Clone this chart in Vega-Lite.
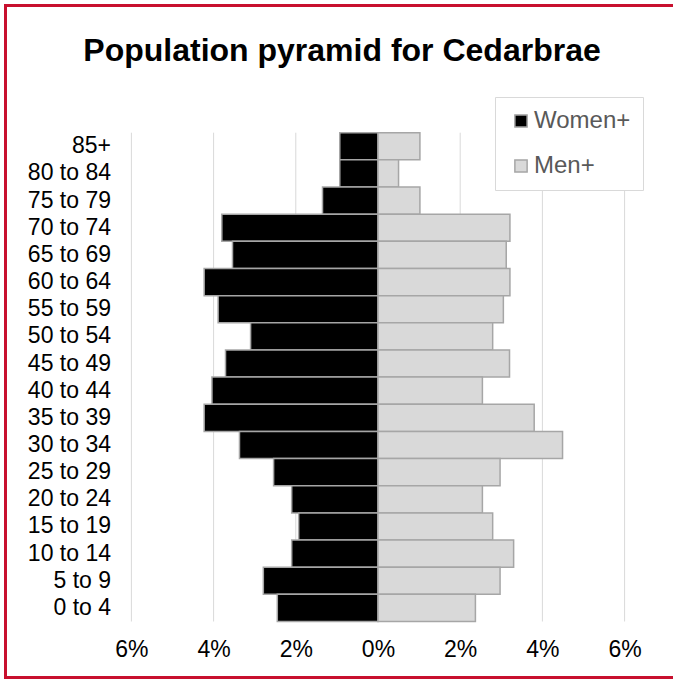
{
  "$schema": "https://vega.github.io/schema/vega-lite/v6.json",
  "width": 669,
  "height": 672,
  "autosize": {"type": "none"},
  "padding": {"left": 5.5, "top": 5.5, "right": -1.5, "bottom": 1.5},
  "background": "white",
  "title": {"text": "Population pyramid for Cedarbrae", "font": "Liberation Sans", "fontSize": 32, "fontWeight": "bold", "color": "#000000", "anchor": "middle", "offset": -62, "dx": 2},
  "config": {"view": {"stroke": "#c8102e", "strokeWidth": 3}, "font": "Liberation Sans"},
  "layer": [
    {
      "data": {"values": [{"g": -6}, {"g": -4}, {"g": -2}, {"g": 0}, {"g": 2}, {"g": 4}, {"g": 6}]},
      "mark": {"type": "rule", "color": "#d9d9d9", "strokeWidth": 1},
      "encoding": {
        "x": {"field": "g", "type": "quantitative", "title": null},
        "y": {"datum": "85+", "type": "nominal", "bandPosition": 0, "title": null},
        "y2": {"datum": "0 to 4", "bandPosition": 1}
      }
    },
    {
      "data": {"values": [
        {"age": "85+", "sex": "Women+", "value": -0.93},
        {"age": "80 to 84", "sex": "Women+", "value": -0.93},
        {"age": "75 to 79", "sex": "Women+", "value": -1.35},
        {"age": "70 to 74", "sex": "Women+", "value": -3.80},
        {"age": "65 to 69", "sex": "Women+", "value": -3.54},
        {"age": "60 to 64", "sex": "Women+", "value": -4.23},
        {"age": "55 to 59", "sex": "Women+", "value": -3.89},
        {"age": "50 to 54", "sex": "Women+", "value": -3.10},
        {"age": "45 to 49", "sex": "Women+", "value": -3.71},
        {"age": "40 to 44", "sex": "Women+", "value": -4.04},
        {"age": "35 to 39", "sex": "Women+", "value": -4.23},
        {"age": "30 to 34", "sex": "Women+", "value": -3.37},
        {"age": "25 to 29", "sex": "Women+", "value": -2.54},
        {"age": "20 to 24", "sex": "Women+", "value": -2.10},
        {"age": "15 to 19", "sex": "Women+", "value": -1.93},
        {"age": "10 to 14", "sex": "Women+", "value": -2.10},
        {"age": "5 to 9", "sex": "Women+", "value": -2.79},
        {"age": "0 to 4", "sex": "Women+", "value": -2.45},
        {"age": "85+", "sex": "Men+", "value": 1.02},
        {"age": "80 to 84", "sex": "Men+", "value": 0.50},
        {"age": "75 to 79", "sex": "Men+", "value": 1.02},
        {"age": "70 to 74", "sex": "Men+", "value": 3.21},
        {"age": "65 to 69", "sex": "Men+", "value": 3.12},
        {"age": "60 to 64", "sex": "Men+", "value": 3.21},
        {"age": "55 to 59", "sex": "Men+", "value": 3.05},
        {"age": "50 to 54", "sex": "Men+", "value": 2.79},
        {"age": "45 to 49", "sex": "Men+", "value": 3.20},
        {"age": "40 to 44", "sex": "Men+", "value": 2.54},
        {"age": "35 to 39", "sex": "Men+", "value": 3.80},
        {"age": "30 to 34", "sex": "Men+", "value": 4.49},
        {"age": "25 to 29", "sex": "Men+", "value": 2.97},
        {"age": "20 to 24", "sex": "Men+", "value": 2.54},
        {"age": "15 to 19", "sex": "Men+", "value": 2.79},
        {"age": "10 to 14", "sex": "Men+", "value": 3.30},
        {"age": "5 to 9", "sex": "Men+", "value": 2.97},
        {"age": "0 to 4", "sex": "Men+", "value": 2.37}
      ]},
      "mark": {"type": "bar", "stroke": "#a6a6a6", "strokeWidth": 1.5},
      "encoding": {
        "y": {
          "field": "age", "type": "nominal", "title": null,
          "scale": {"type": "band", "domain": ["85+", "80 to 84", "75 to 79", "70 to 74", "65 to 69", "60 to 64", "55 to 59", "50 to 54", "45 to 49", "40 to 44", "35 to 39", "30 to 34", "25 to 29", "20 to 24", "15 to 19", "10 to 14", "5 to 9", "0 to 4"], "paddingInner": 0, "paddingOuter": 0, "range": [127.2, 616]},
          "axis": {"title": null, "orient": "left", "offset": -106, "domain": false, "ticks": false, "grid": false, "labelPadding": 1, "labelFont": "Liberation Sans", "labelFontSize": 23, "labelColor": "#000000"}
        },
        "x": {
          "field": "value", "type": "quantitative", "title": null,
          "scale": {"domain": [-9.063, 7.214], "nice": false, "zero": false},
          "axis": {"title": null, "values": [-6, -4, -2, 0, 2, 4, 6], "labelExpr": "abs(datum.value) + '%'", "grid": false, "domain": false, "ticks": false, "offset": -40, "labelPadding": 1, "labelFont": "Liberation Sans", "labelFontSize": 23, "labelColor": "#000000"}
        },
        "color": {
          "field": "sex", "type": "nominal",
          "scale": {"domain": ["Women+", "Men+"], "range": ["#000000", "#d9d9d9"]},
          "legend": {"title": null, "orient": "none", "legendX": 489.5, "legendY": 91.5, "symbolType": "square", "symbolSize": 150, "symbolStrokeColor": "#a6a6a6", "symbolStrokeWidth": 1.5, "symbolOffset": 2, "labelFont": "Liberation Sans", "labelFontSize": 24, "labelColor": "#595959", "labelOffset": 1, "rowPadding": 21, "padding": 12, "strokeColor": "#d9d9d9", "fillColor": "#ffffff"}
        }
      }
    }
  ]
}
